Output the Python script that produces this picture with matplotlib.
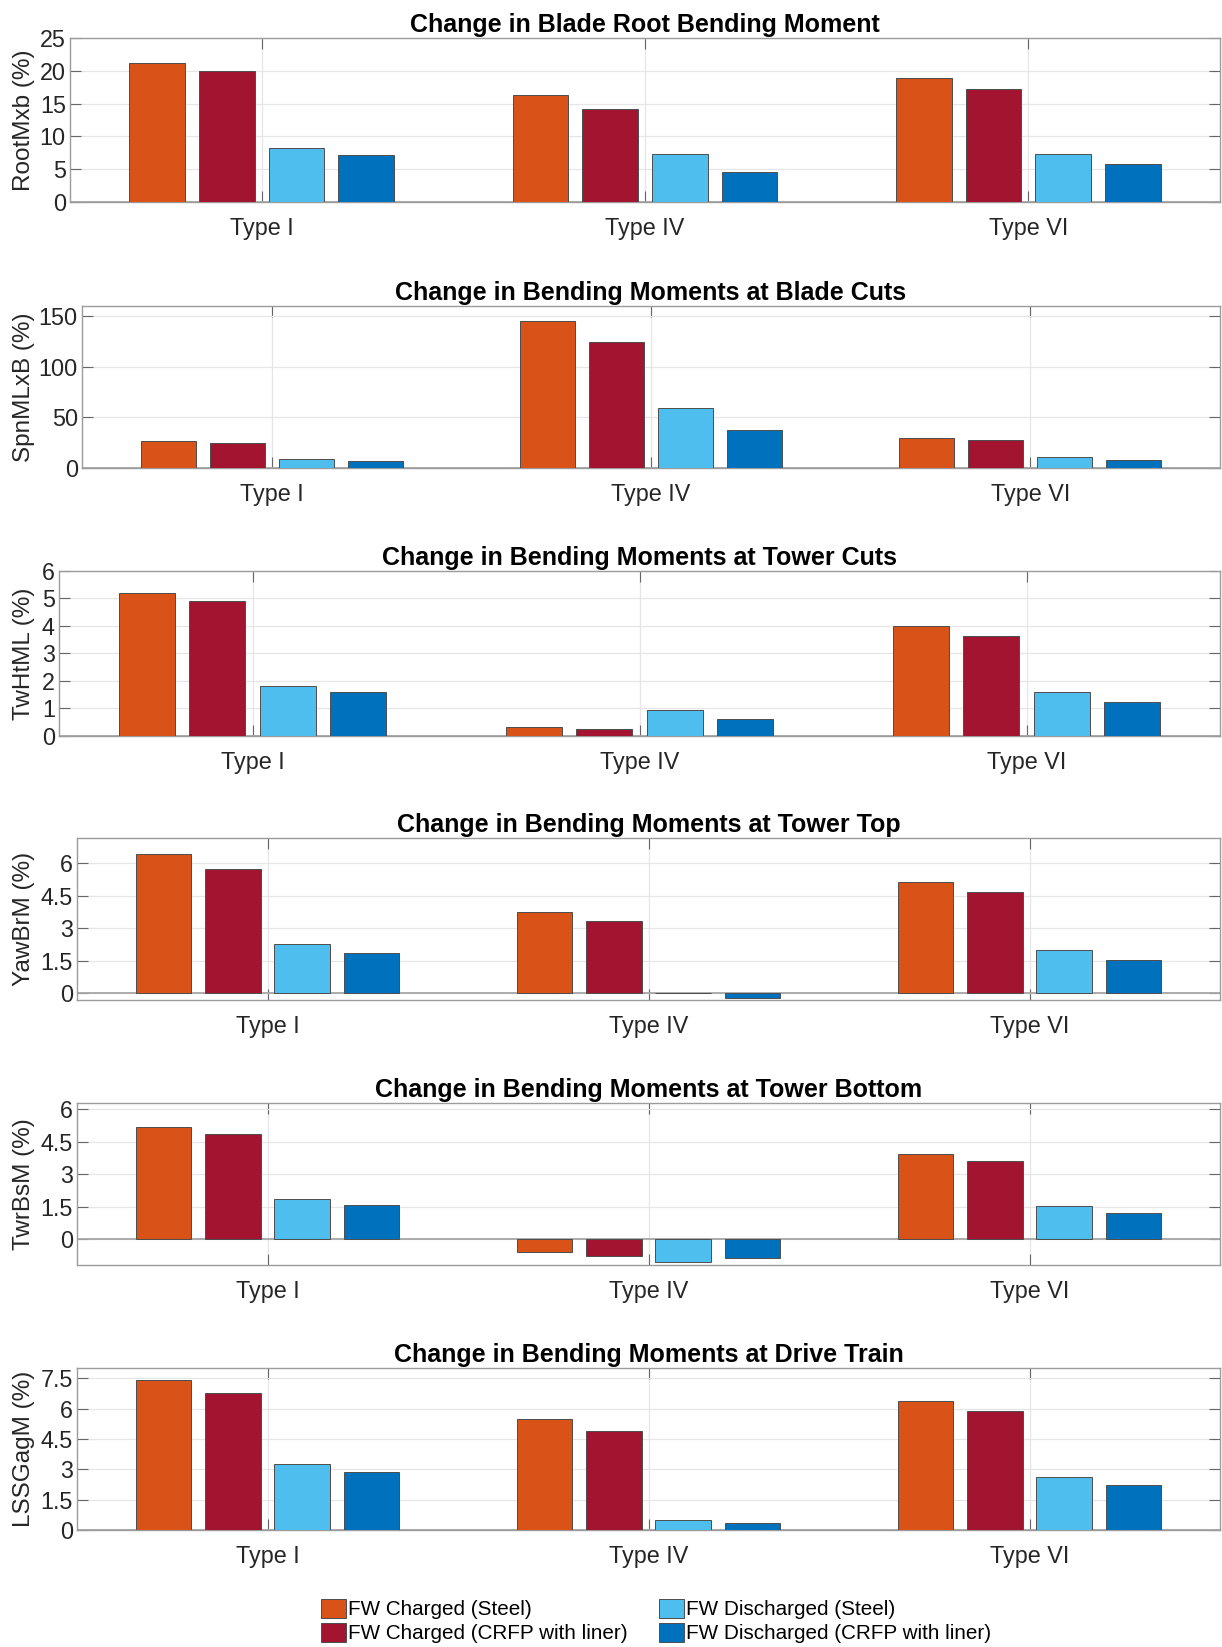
import numpy as np
import matplotlib.pyplot as plt
from matplotlib.ticker import FuncFormatter
from matplotlib.transforms import blended_transform_factory

plt.rcParams['font.family'] = ['Liberation Sans', 'DejaVu Sans']

W, H = 1222, 1647

types = ['Type I', 'Type IV', 'Type VI']
series = ['FW Charged (Steel)', 'FW Charged (CRFP with liner)',
          'FW Discharged (Steel)', 'FW Discharged (CRFP with liner)']
colors = ['#D95319', '#A2142F', '#4DBEEE', '#0072BD']

# rows: Type I / IV / VI, columns: the four series
root_mxb = [[21.2, 19.9, 8.3, 7.1], [16.3, 14.2, 7.3, 4.6], [18.9, 17.2, 7.3, 5.8]]
spn_mlxb = [[26.3, 25.0, 8.6, 7.2], [144.7, 124.0, 59.5, 37.2], [29.9, 27.6, 10.9, 7.9]]
twht_ml = [[5.21, 4.92, 1.83, 1.59], [0.34, 0.26, 0.94, 0.61], [3.99, 3.64, 1.59, 1.24]]
yaw_brm = [[6.40, 5.73, 2.27, 1.88], [3.73, 3.32, 0.02, -0.19], [5.12, 4.65, 1.98, 1.54]]
twr_bsm = [[5.18, 4.89, 1.86, 1.60], [-0.58, -0.75, -1.04, -0.84], [3.95, 3.64, 1.56, 1.24]]
lssgag_m = [[7.41, 6.79, 3.28, 2.85], [5.48, 4.89, 0.51, 0.33], [6.36, 5.89, 2.62, 2.20]]

panels = [
    # data, title, ylabel, ylim, yticks, (left, top, bottom) in px
    (root_mxb, 'Change in Blade Root Bending Moment', 'RootMxb (%)',
     (0, 25), [0, 5, 10, 15, 20, 25], (70, 38, 202)),
    (spn_mlxb, 'Change in Bending Moments at Blade Cuts', 'SpnMLxB (%)',
     (0, 160), [0, 50, 100, 150], (82, 306, 468)),
    (twht_ml, 'Change in Bending Moments at Tower Cuts', 'TwHtML (%)',
     (0, 6), [0, 1, 2, 3, 4, 5, 6], (59, 571, 736)),
    (yaw_brm, 'Change in Bending Moments at Tower Top', 'YawBrM (%)',
     (-0.3, 7.15), [0, 1.5, 3, 4.5, 6], (77, 838, 1000)),
    (twr_bsm, 'Change in Bending Moments at Tower Bottom', 'TwrBsM (%)',
     (-1.18, 6.3), [0, 1.5, 3, 4.5, 6], (77, 1103, 1265)),
    (lssgag_m, 'Change in Bending Moments at Drive Train', 'LSSGagM (%)',
     (0, 8.0), [0, 1.5, 3, 4.5, 6, 7.5], (77, 1368, 1530)),
]

fig = plt.figure(figsize=(W / 100, H / 100), dpi=100)
right = 1220

x = np.arange(1, len(types) + 1)
pitch = 0.727 / 4
width = 0.8 * pitch
offsets = (np.arange(4) - 1.5) * pitch

bars = []
for data, title, ylabel, ylim, yticks, (left, top, bottom) in panels:
    ax = fig.add_axes([left / W, 1 - bottom / H, (right - left) / W, (bottom - top) / H])
    vals = np.array(data)
    bars = []
    for k in range(4):
        b = ax.bar(x + offsets[k], vals[:, k], width, color=colors[k],
                   edgecolor='#4d4d4d', linewidth=0.7, zorder=3, label=series[k])
        bars.append(b)
    ax.axhline(0, color='#a6a6a6', lw=1.3, zorder=2)
    ax.set_xlim(0.5, 3.5)
    ax.set_ylim(*ylim)
    ax.set_xticks(x)
    ax.set_xticklabels(types)
    ax.set_yticks(yticks)
    ax.yaxis.set_major_formatter(FuncFormatter(lambda v, p: '%g' % v))
    ax.grid(True, color='#e6e6e6', lw=0.9, zorder=0)
    ax.set_axisbelow(True)
    ax.tick_params(axis='both', direction='in', length=8, width=0.8, color='#666666',
                   labelcolor='#262626', labelsize=16.8, top=True, right=True)
    ax.tick_params(axis='x', pad=10.5)
    ax.tick_params(axis='y', pad=3)
    for s in ax.spines.values():
        s.set_color('#9c9c9c')
        s.set_linewidth(1.0)
    ax.set_title(title, fontsize=18, fontweight='bold', pad=4)
    ax.set_ylabel(ylabel, fontsize=17.5, color='#262626')
    ax.yaxis.set_label_coords(35 / W, 0.5,
                              transform=blended_transform_factory(fig.transFigure, ax.transAxes))

fig.legend(handles=bars, labels=series, ncol=2, loc='center',
           bbox_to_anchor=(656 / W, 1 - 1621 / H), frameon=False, fontsize=14.9,
           handlelength=1.2, handleheight=1.05, handletextpad=0.12,
           columnspacing=1.5, labelspacing=0.15, borderpad=0)

fig.savefig('out.png', dpi=100)
